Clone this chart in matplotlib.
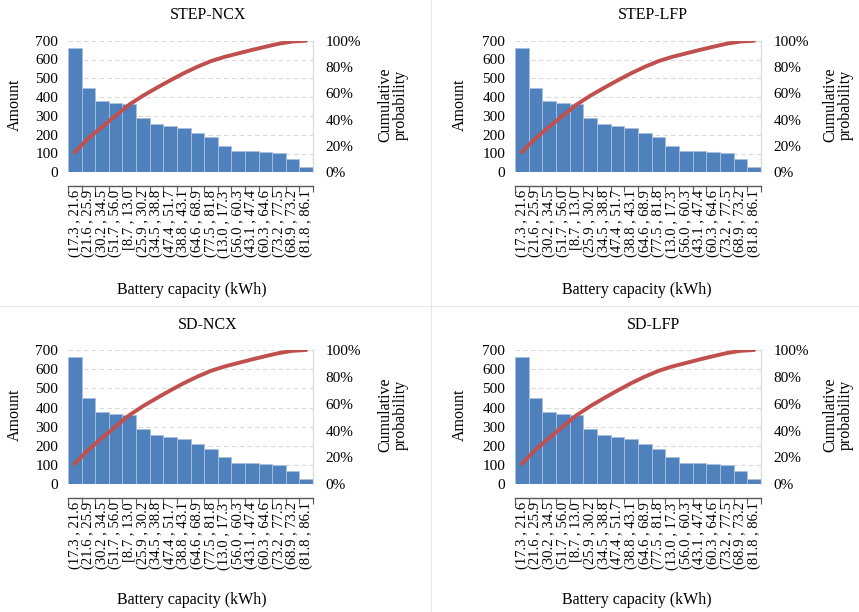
import matplotlib.pyplot as plt
import numpy as np
from matplotlib.lines import Line2D

plt.rcParams['font.family'] = ['Liberation Serif', 'DejaVu Serif']

# --- data ---
categories = ["(17.3 , 21.6", "(21.6 , 25.9", "(30.2 , 34.5", "(51.7 , 56.0",
              "[8.7 , 13.0", "(25.9 , 30.2", "(34.5 , 38.8", "(47.4 , 51.7",
              "(38.8 , 43.1", "(64.6 , 68.9", "(77.5 , 81.8", "(13.0 , 17.3",
              "(56.0 , 60.3", "(43.1 , 47.4", "(60.3 , 64.6", "(73.2 , 77.5",
              "(68.9 , 73.2", "(81.8 , 86.1"]
amounts = [662, 450, 379, 368, 363, 289, 257, 248, 236, 211, 186, 140,
           113, 113, 106, 101, 71, 27]
panel_titles = ["STEP-NCX", "STEP-LFP", "SD-NCX", "SD-LFP"]
y_ticks = [0, 100, 200, 300, 400, 500, 600, 700]
pct_ticks = [0, 0.2, 0.4, 0.6, 0.8, 1.0]

W, H = 859, 612
BAR = '#4F81BD'
LINE = '#C0504D'
FS_TICK = 11
FS_LAB = 11.5

fig = plt.figure(figsize=(W / 100, H / 100), dpi=100)


def px(x, y):
    return x / W, 1 - y / H


def panel(left, right, top, bottom, ox, oy, title):
    x0, y0 = px(left, bottom)
    x1, y1 = px(right, top)
    ax = fig.add_axes([x0, y0, x1 - x0, y1 - y0])
    x = np.arange(len(categories))
    ax.bar(x, amounts, width=1.0, color=BAR, edgecolor='#A9C0DE', linewidth=0.6, zorder=2)
    ax.set_xlim(-0.5, len(categories) - 0.5)
    ax.set_ylim(0, 700)
    ax.set_yticks(y_ticks)
    ax.yaxis.grid(True, color='#D9D9D9', linestyle=(0, (4, 3)), linewidth=0.8, zorder=0)
    ax.set_axisbelow(True)
    for s in ['top', 'left']:
        ax.spines[s].set_visible(False)
    ax.spines['right'].set_color('#D9D9D9')
    ax.spines['bottom'].set_position(('outward', 10))
    ax.spines['bottom'].set_color('#595959')
    ax.spines['bottom'].set_linewidth(1.0)
    # category boundaries get the tick marks, labels sit at bar centres
    ax.set_xticks(np.arange(len(categories) + 1) - 0.5)
    ax.set_xticklabels([])
    ax.set_xticks(x, minor=True)
    ax.set_xticklabels(categories, minor=True, rotation=90, fontsize=10.5, va='top', ha='center')
    ax.tick_params(axis='x', which='major', length=4, color='#595959', direction='out')
    ax.tick_params(axis='x', which='minor', length=0, pad=3)
    ax.tick_params(axis='y', length=0, labelsize=FS_TICK, pad=7)

    ax2 = ax.twinx()
    cum = np.cumsum(amounts) / np.sum(amounts)
    ax2.plot(x, cum, color=LINE, linewidth=2.8, solid_capstyle='round', zorder=3)
    ax2.set_ylim(0, 1.0)
    ax2.set_yticks(pct_ticks)
    ax2.set_yticklabels([f"{int(round(p * 100))}%" for p in pct_ticks])
    ax2.tick_params(axis='y', length=0, labelsize=FS_TICK, pad=9)
    for s in ['top', 'left', 'bottom']:
        ax2.spines[s].set_visible(False)
    ax2.spines['right'].set_color('#D9D9D9')

    # labels placed in pixel coordinates like the original chart
    fig.text(*px(ox + 208, oy + 15), title, ha='center', va='center', fontsize=FS_LAB)
    fig.text(*px(ox + 15, oy + 105), "Amount", ha='center', va='center', rotation=90, fontsize=FS_LAB)
    fig.text(*px(ox + 393, oy + 105), "Cumulative\nprobability", ha='center', va='center',
             rotation=90, fontsize=FS_LAB, linespacing=1.0)
    fig.text(*px(ox + 192, oy + 290), "Battery capacity (kWh)", ha='center', va='center', fontsize=FS_LAB)


panel(68, 313, 40.7, 172.3, 0, 0, panel_titles[0])
panel(515, 761, 40.7, 172.3, 445, 0, panel_titles[1])
panel(68, 313, 350, 484.3, 0, 310, panel_titles[2])
panel(515, 761, 350, 484.3, 445, 310, panel_titles[3])

# faint chart borders between panels
fig.add_artist(Line2D([431 / W, 431 / W], [0, 1], color='#E6E6E6', linewidth=0.8))
fig.add_artist(Line2D([0, 1], [1 - 306 / H, 1 - 306 / H], color='#E6E6E6', linewidth=0.8))

fig.savefig('out.png', dpi=100)
